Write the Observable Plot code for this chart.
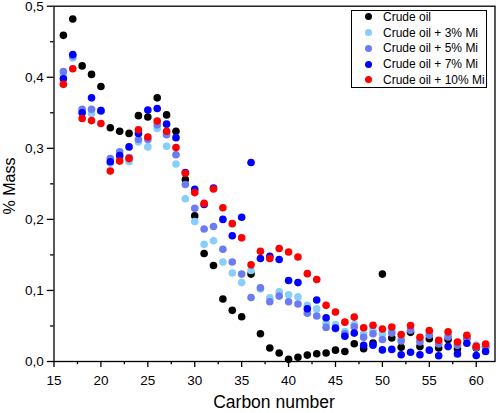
<!DOCTYPE html>
<html>
<head>
<meta charset="utf-8">
<script src="https://cdn.jsdelivr.net/npm/d3@7"></script>
<script src="https://cdn.jsdelivr.net/npm/@observablehq/plot@0.6"></script>
<style>
  html, body { margin: 0; padding: 0; background: white; }
  #wrap { position: relative; width: 496px; height: 413px; font-family: "Liberation Sans", Arial, sans-serif; }
  .legend { position: absolute; left: 351px; top: 10px; width: 134px; height: 76px; border: 1px solid black; background: white; }
  .item { position: absolute; left: 0; height: 14px; line-height: 14px; font-size: 12px; color: black; white-space: nowrap; }
  .item .sw { position: absolute; left: 12.5px; top: 3.5px; width: 7px; height: 7px; border-radius: 50%; }
  .item .tx { position: absolute; left: 31px; top: 0; }
</style>
</head>
<body>
<div id="wrap"></div>
<script>
// ---- data ----
const carbonNumbers = [16,17,18,19,20,21,22,23,24,25,26,27,28,29,30,31,32,33,34,35,36,37,38,39,40,41,42,43,44,45,46,47,48,49,50,51,52,53,54,55,56,57,58,59,60,61];

const seriesNames = ["Crude oil", "Crude oil + 3% Mi", "Crude oil + 5% Mi", "Crude oil + 7% Mi", "Crude oil + 10% Mi"];
const seriesColors = ["#000000", "#87cefa", "#6b7cf2", "#0000ff", "#ff0000"];

const crudeOil = [0.459,0.482,0.416,0.404,0.387,0.329,0.324,0.321,0.346,0.344,0.371,0.347,0.324,0.256,0.205,0.152,0.135,0.088,0.072,0.063,0.123,0.039,0.019,0.012,0.003,0.006,0.009,0.011,0.012,0.016,0.014,0.025,0.018,0.026,0.123,0.033,0.020,0.041,0.021,0.032,0.019,0.031,0.018,0.033,0.019,0.020];
const mi3 = [0.403,0.427,0.352,0.349,0.352,0.279,0.286,0.281,0.309,0.302,0.328,0.303,0.278,0.229,0.197,0.165,0.170,0.140,0.1245,0.111,0.128,0.102,0.0895,0.098,0.094,0.091,0.079,0.074,0.054,0.052,0.042,0.052,0.039,0.044,0.039,0.044,0.033,0.046,0.030,0.040,0.027,0.037,0.025,0.035,0.023,0.021];
const mi5 = [0.408,0.430,0.355,0.355,0.353,0.2855,0.295,0.287,0.3125,0.3125,0.333,0.319,0.291,0.249,0.2155,0.1865,0.190,0.158,0.140,0.123,0.090,0.1037,0.084,0.092,0.084,0.081,0.068,0.064,0.048,0.046,0.039,0.049,0.034,0.039,0.031,0.040,0.029,0.044,0.0275,0.037,0.0246,0.0346,0.0227,0.033,0.020,0.021];
const mi7 = [0.398,0.432,0.350,0.371,0.353,0.281,0.290,0.302,0.321,0.354,0.356,0.334,0.315,0.266,0.2425,0.221,0.244,0.200,0.177,0.203,0.280,0.145,0.148,0.1435,0.114,0.111,0.0743,0.0866,0.0616,0.047,0.0355,0.040,0.0227,0.023,0.0163,0.017,0.0095,0.013,0.0095,0.016,0.008,0.021,0.0107,0.0256,0.0085,0.014];
const mi10 = [0.390,0.412,0.342,0.339,0.335,0.268,0.282,0.2855,0.326,0.316,0.3385,0.324,0.301,0.265,0.2377,0.2225,0.2427,0.2163,0.194,0.174,0.136,0.155,0.145,0.159,0.154,0.147,0.1236,0.1155,0.079,0.0696,0.0554,0.0625,0.0475,0.051,0.0457,0.0485,0.038,0.0507,0.034,0.0436,0.0298,0.0417,0.0275,0.0368,0.0213,0.0246];

const xMajorTicks = [15,20,25,30,35,40,45,50,55,60];
const xMinorTicks = [17.5,22.5,27.5,32.5,37.5,42.5,47.5,52.5,57.5];
const yMajorTicks = [0,0.1,0.2,0.3,0.4,0.5];
const yMinorTicks = [0.05,0.15,0.25,0.35,0.45];

// ---- build long table ----
const allSeries = [crudeOil, mi3, mi5, mi7, mi10];
const rows = [];
allSeries.forEach((vals, si) => {
  vals.forEach((v, i) => rows.push({carbon: carbonNumbers[i], mass: v, series: seriesNames[si]}));
});

const fmtY = d => d.toFixed(1).replace(".", ",");

const chart = Plot.plot({
  width: 496,
  height: 413,
  marginLeft: 53.5,
  marginRight: 1.5,
  marginTop: 5.7,
  marginBottom: 52,
  style: {fontFamily: "'Liberation Sans', Arial, sans-serif", fontSize: "13.5px", color: "black", background: "white", overflow: "visible"},
  x: {domain: [15, 62]},
  y: {domain: [0, 0.5]},
  color: {domain: seriesNames, range: seriesColors},
  marks: [
    Plot.axisX({ticks: xMajorTicks, tickSize: 6, tickPadding: 8, tickFormat: d => String(d), label: null, strokeWidth: 1.3, fontSize: 13.5}),
    Plot.axisX({ticks: xMinorTicks, tickSize: 3.2, tickFormat: () => "", label: null, strokeWidth: 1.3}),
    Plot.axisY({ticks: yMajorTicks, tickSize: 6.7, tickPadding: 3.5, tickFormat: fmtY, label: null, strokeWidth: 1.3, fontSize: 13.5}),
    Plot.axisY({ticks: yMinorTicks, tickSize: 3.4, tickFormat: () => "", label: null, strokeWidth: 1.3}),
    Plot.dot(rows, {x: "carbon", y: "mass", fill: "series", r: 3.8, stroke: null}),
    Plot.frame({stroke: "black", strokeWidth: 1.3})
  ]
});

const wrap = document.getElementById("wrap");
wrap.appendChild(chart);

// axis titles
const svg = d3.select(chart);
svg.append("text")
  .attr("x", 274).attr("y", 408)
  .attr("text-anchor", "middle")
  .attr("font-size", 17.5)
  .attr("fill", "black")
  .attr("font-family", "'Liberation Sans', Arial, sans-serif")
  .text("Carbon number");
svg.append("text")
  .attr("transform", "translate(14.5,186) rotate(-90)")
  .attr("text-anchor", "middle")
  .attr("font-size", 16)
  .attr("fill", "black")
  .attr("font-family", "'Liberation Sans', Arial, sans-serif")
  .text("% Mass");

// legend
const legend = document.createElement("div");
legend.className = "legend";
const rowCenters = [5.7, 21.5, 37.3, 53.1, 68.9];
seriesNames.forEach((name, i) => {
  const it = document.createElement("div");
  it.className = "item";
  it.style.top = (rowCenters[i] - 7) + "px";
  const sw = document.createElement("span");
  sw.className = "sw";
  sw.style.background = seriesColors[i];
  const tx = document.createElement("span");
  tx.className = "tx";
  tx.textContent = name;
  it.appendChild(sw);
  it.appendChild(tx);
  legend.appendChild(it);
});
wrap.appendChild(legend);
</script>
</body>
</html>
